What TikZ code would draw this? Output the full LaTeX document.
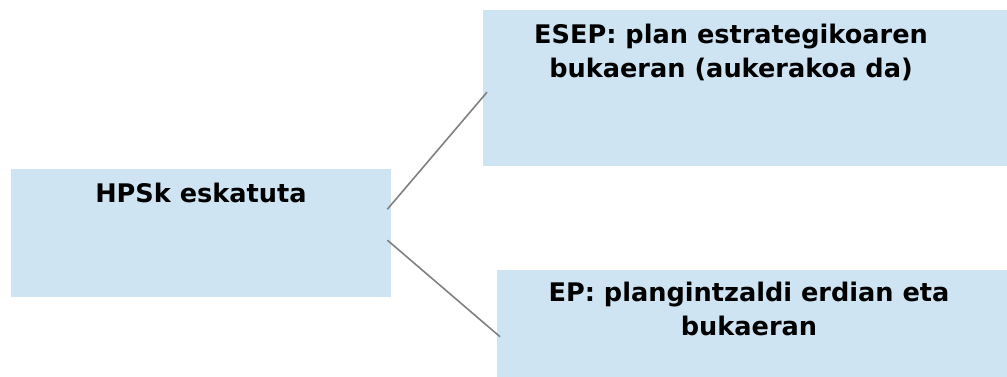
\documentclass[tikz,border=0pt]{standalone}
\usepackage{fontspec}
\setmainfont{DejaVu Sans}
\usetikzlibrary{calc}
\definecolor{boxfill}{RGB}{207,228,243}
\definecolor{linkgray}{RGB}{128,128,128}
\tikzset{
  box/.style={fill=boxfill, draw=none, inner sep=0pt, anchor=north west},
  label/.style={font=\fontsize{25.6}{33.5}\selectfont\bfseries, align=center, inner sep=0pt, anchor=base},
  link/.style={draw=linkgray, line width=1.6pt}
}
\begin{document}
\begin{tikzpicture}[x=1pt,y=-1pt]
\useasboundingbox (0,0) rectangle (1007,376);
\node[box, minimum width=380pt, minimum height=128pt] (L) at (11,169) {};
\node[box, minimum width=524pt, minimum height=156pt] (T) at (483,10) {};
\node[box, minimum width=510pt, minimum height=107pt] (B) at (497,270) {};
\node[label] (Lt) at (201,202) {HPSk eskatuta};
\node[label] (Tt) at (731,77) {ESEP: plan estrategikoaren\\bukaeran (aukerakoa da)};
\node[label] (Bt) at (749,335) {EP: plangintzaldi erdian eta\\bukaeran};
\draw[link] ($(L.east)+(-4,-24)$) -- ($(T.west)+(4,4)$);
\draw[link] ($(L.east)+(-4,7)$) -- ($(B.west)+(3,13)$);
\end{tikzpicture}
\end{document}
